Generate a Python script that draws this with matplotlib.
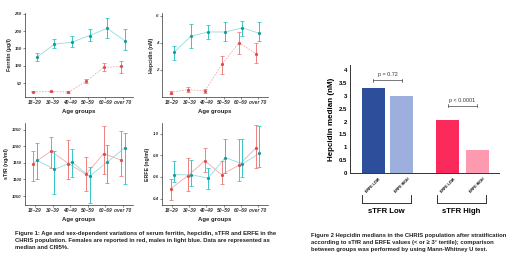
import matplotlib
matplotlib.use("Agg")
import matplotlib.pyplot as plt
import numpy as np

W, H = 520, 263
plt.rcParams['font.family'] = ['Liberation Sans', 'DejaVu Sans']

age_groups = ["18\u201329", "30\u201339", "40\u201349", "50\u201359", "60\u201369", "over 70"]

# Ferritin (ug/l)
fer_m = [125, 162, 168, 187, 208, 172]
fer_m_lo = [115, 150, 155, 170, 180, 145]
fer_m_hi = [137, 178, 185, 205, 237, 207]
fer_f = [25, 26, 24, 55, 95, 98]
fer_f_lo = [23, 24, 22, 49, 85, 80]
fer_f_hi = [27, 28, 26, 61, 108, 115]

# Hepcidin (nM)
hep_m = [3.3, 4.5, 4.8, 4.8, 5.1, 4.7]
hep_m_lo = [2.7, 3.6, 4.3, 4.1, 4.5, 4.1]
hep_m_hi = [3.8, 5.4, 5.3, 5.5, 5.6, 5.5]
hep_f = [0.33, 0.55, 0.45, 2.4, 4.0, 3.2]
hep_f_lo = [0.25, 0.4, 0.3, 1.7, 3.2, 2.5]
hep_f_hi = [0.42, 0.72, 0.6, 3.0, 4.8, 4.0]

# sTfR (ng/ml)
stfr_f = [1148, 1185, 1148, 1115, 1178, 1158]
stfr_f_lo = [1095, 1135, 1102, 1065, 1115, 1110]
stfr_f_hi = [1185, 1228, 1220, 1168, 1260, 1245]
stfr_m = [1158, 1130, 1152, 1110, 1152, 1195]
stfr_m_lo = [1100, 1055, 1108, 1030, 1088, 1085]
stfr_m_hi = [1210, 1185, 1192, 1138, 1205, 1240]

# ERFE (ng/ml)
erfe_f = [0.49, 0.61, 0.75, 0.62, 0.71, 0.87]
erfe_f_lo = [0.39, 0.47, 0.65, 0.53, 0.56, 0.68]
erfe_f_hi = [0.58, 0.78, 0.87, 0.75, 0.95, 1.08]
erfe_m = [0.62, 0.62, 0.59, 0.78, 0.72, 0.82]
erfe_m_lo = [0.55, 0.52, 0.49, 0.64, 0.60, 0.69]
erfe_m_hi = [0.75, 0.76, 0.68, 0.95, 0.95, 1.07]

# Bar chart: hepcidin medians
bar_labels = ["ERFE LOW", "ERFE HIGH", "ERFE LOW", "ERFE HIGH"]
bar_values = [3.31, 3.0, 2.06, 0.89]
bar_colors = ["#2D4E9A", "#9DAFDD", "#FB2A5B", "#FD9AB0"]
group_labels = ["sTFR Low", "sTFR High"]
p_labels = ["p = 0.72", "p < 0.0001"]

caption1 = ["Figure 1: Age and sex-dependent variations of serum ferritin, hepcidin, sTFR and ERFE in the",
            "CHRIS population. Females are reported in red, males in light blue. Data are represented as",
            "median and CI95%."]
caption2 = ["Figure 2 Hepcidin medians in the CHRIS population after stratification",
            "according to sTfR and ERFE values (< or \u2265 3\u00b0 tertile); comparison",
            "between groups was performed by using Mann-Whitney U test."]

fig = plt.figure(figsize=(W / 100, H / 100), dpi=100)
fig.patch.set_facecolor("white")


def ax_px(l, t, r, b):
    return fig.add_axes([l / W, 1 - b / H, (r - l) / W, (b - t) / H])


F_ERR, F_LINE, F_MK = "#EE8080", "#F5A8A8", "#D65050"
M_ERR, M_LINE, M_MK = "#35C6C6", "#92DDDD", "#1C9A9A"


def series(ax, x, v, lo, hi, ecol, lcol, mcol, ls):
    v = np.array(v); lo = np.array(lo); hi = np.array(hi)
    ax.plot(x, v, color=lcol, lw=0.6, ls=ls, zorder=2)
    ax.errorbar(x, v, yerr=[v - lo, hi - v], fmt='none', ecolor=ecol,
                elinewidth=0.7, capsize=1.3, capthick=0.6, zorder=3)
    ax.plot(x, v, ls='none', marker='o', ms=1.3, color=mcol, zorder=4)


def style(ax, ylabel, xlim, ylim, yticks, ytl):
    ax.set_xlim(*xlim)
    ax.set_ylim(*ylim)
    ax.set_xticks(range(6))
    ax.set_xticklabels(age_groups, fontsize=3.5, fontstyle='italic', fontweight='bold', color='#333333')
    ax.set_yticks(yticks)
    ax.set_yticklabels(ytl, fontsize=3.2, fontweight='bold', fontstyle='italic', color='#333333')
    ax.set_xlabel("Age groups", fontsize=4.3, fontweight='bold', labelpad=3, color='#222222')
    ax.set_ylabel(ylabel, fontsize=3.8, fontweight='bold', labelpad=2, color='#222222')
    for s in ['top', 'right']:
        ax.spines[s].set_visible(False)
    for s in ['left', 'bottom']:
        ax.spines[s].set_linewidth(0.5)
        ax.spines[s].set_color('#333333')
    ax.tick_params(length=1.2, width=0.4, pad=1.2, colors='#333333')


x = np.arange(6)
d = 0.1

ax1 = ax_px(25, 13, 133, 97)
series(ax1, x + d, fer_m, fer_m_lo, fer_m_hi, M_ERR, M_LINE, M_MK, '-')
series(ax1, x - d, fer_f, fer_f_lo, fer_f_hi, F_ERR, F_LINE, F_MK, (0, (2, 1.5)))
style(ax1, "Ferritin (\u00b5g/l)", (-0.57, 5.57), (10, 252), [50, 100, 150, 200, 250],
      ["50", "100", "150", "200", "250"])

ax2 = ax_px(162, 13, 268, 97)
series(ax2, x + d, hep_m, hep_m_lo, hep_m_hi, M_ERR, M_LINE, M_MK, '-')
series(ax2, x - d, hep_f, hep_f_lo, hep_f_hi, F_ERR, F_LINE, F_MK, (0, (2, 1.5)))
style(ax2, "Hepcidin (nM)", (-0.6, 5.6), (0, 6.2), [2, 4, 6], ["2", "4", "6"])

ax3 = ax_px(25, 123, 133, 205)
series(ax3, x - d, stfr_f, stfr_f_lo, stfr_f_hi, F_ERR, F_LINE, F_MK, '-')
series(ax3, x + d, stfr_m, stfr_m_lo, stfr_m_hi, M_ERR, M_LINE, M_MK, '-')
style(ax3, "sTfR (ng/ml)", (-0.57, 5.57), (1023, 1270), [1050, 1100, 1150, 1200, 1250],
      ["1050", "1100", "1150", "1200", "1250"])

ax4 = ax_px(162, 123, 268, 205)
series(ax4, x - d, erfe_f, erfe_f_lo, erfe_f_hi, F_ERR, F_LINE, F_MK, '-')
series(ax4, x + d, erfe_m, erfe_m_lo, erfe_m_hi, M_ERR, M_LINE, M_MK, '-')
style(ax4, "ERFE (ng/ml)", (-0.6, 5.6), (0.34, 1.1), [0.4, 0.6, 0.8, 1.0],
      ["0.4", "0.6", "0.8", "1.0"])

# Bar chart
axb = ax_px(350, 65, 499, 173)
pos = [0, 1, 2.6, 3.62]
axb.bar(pos, bar_values, width=0.8, color=bar_colors, zorder=2)
axb.set_xlim(-0.8, 4.38)
axb.set_ylim(0, 4.2)
yt = [0, 0.5, 1, 1.5, 2, 2.5, 3, 3.5, 4]
axb.set_yticks(yt)
axb.set_yticklabels(["0", "0.5", "1", "1.5", "2", "2.5", "3", "3.5", "4"], fontsize=4.3, fontweight='bold')
axb.set_xticks(pos)
axb.set_xticklabels(bar_labels, rotation=45, ha='center', va='top', fontsize=2.6, fontweight='bold')
axb.tick_params(axis='x', length=0, pad=3)
axb.tick_params(axis='y', length=0, pad=2)
for s in ['top', 'right']:
    axb.spines[s].set_visible(False)
for s in ['left', 'bottom']:
    axb.spines[s].set_linewidth(0.7)
    axb.spines[s].set_color('#333333')
axb.set_ylabel("Hepcidin median (nM)", fontsize=5.8, fontweight='bold', labelpad=3)

# p-value brackets
for (a, b), yb, lab in [((pos[0], pos[1]), 3.61, p_labels[0]), ((pos[2], pos[3]), 2.61, p_labels[1])]:
    axb.plot([a, b], [yb, yb], color='#444444', lw=0.5)
    axb.plot([a, a], [yb - 0.06, yb + 0.06], color='#444444', lw=0.5)
    axb.plot([b, b], [yb - 0.06, yb + 0.06], color='#444444', lw=0.5)
    axb.text((a + b) / 2, yb + 0.12, lab, ha='center', va='bottom', fontsize=3.9, color='#333333')

# group brackets below bars
trans = axb.get_xaxis_transform()
yb_ax = -(203 - 173) / (173 - 65)
ytick_ax = -(195 - 173) / (173 - 65)
ylab_ax = -(212 - 173) / (173 - 65)
for (a, b), lab in [((pos[0] - 0.37, pos[1] + 0.31), group_labels[0]), ((pos[2] - 0.37, pos[3] + 0.31), group_labels[1])]:
    axb.plot([a, b], [yb_ax, yb_ax], color='#333333', lw=0.7, transform=trans, clip_on=False)
    axb.plot([a, a], [yb_ax, ytick_ax], color='#333333', lw=0.7, transform=trans, clip_on=False)
    axb.plot([b, b], [yb_ax, ytick_ax], color='#333333', lw=0.7, transform=trans, clip_on=False)
    axb.text((a + b) / 2, ylab_ax, lab, ha='center', va='center', fontsize=5.6, fontweight='bold',
             transform=trans)

# Captions
for i, line in enumerate(caption1):
    fig.text(15 / W, 1 - (233 + 7.3 * i) / H, line, ha='left', va='center', fontsize=4.25,
             fontweight='bold', color='#222222')
for i, line in enumerate(caption2):
    fig.text(311 / W, 1 - (235 + 7.5 * i) / H, line, ha='left', va='center', fontsize=4.25,
             fontweight='bold', color='#222222')

fig.savefig("out.png", dpi=100, facecolor="white")
